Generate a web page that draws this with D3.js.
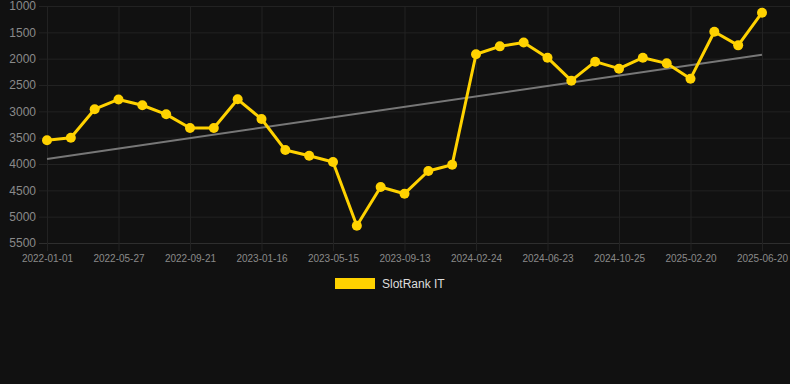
<!DOCTYPE html>
<html>
<head>
<meta charset="utf-8">
<script src="https://cdn.jsdelivr.net/npm/d3@7"></script>
<style>
  html, body { margin: 0; padding: 0; background: #111111; }
  #chart { width: 790px; height: 384px; }
</style>
</head>
<body>
<div id="chart"></div>
<script>
// dates of each rank sample (every third one is labelled on the axis)
const dates = [
  "2022-01-01", "2022-02-18", "2022-04-08", "2022-05-27", "2022-07-05", "2022-08-13",
  "2022-09-21", "2022-10-30", "2022-12-08", "2023-01-16", "2023-02-24", "2023-04-05",
  "2023-05-15", "2023-06-24", "2023-08-04", "2023-09-13", "2023-11-06", "2023-12-31",
  "2024-02-24", "2024-04-04", "2024-05-14", "2024-06-23", "2024-08-03", "2024-09-14",
  "2024-10-25", "2024-12-03", "2025-01-11", "2025-02-20", "2025-04-01", "2025-05-11",
  "2025-06-20"
];
const ranks = [
  3550, 3500, 2960, 2775, 2885, 3057, 3317, 3317, 2772, 3146, 3735,
  3843, 3962, 5172, 4437, 4564, 4133, 4013, 1917, 1766, 1692, 1981,
  2418, 2057, 2190, 1981, 2089, 2380, 1488, 1747, 1127
];
// trend line values at first and last date
const trend = [3905, 1924];
const yTicks = [1000, 1500, 2000, 2500, 3000, 3500, 4000, 4500, 5000, 5500];
const seriesName = "SlotRank IT";

const width = 790, height = 384;
const margin = { top: 6, right: 28, bottom: 141, left: 47 };
const innerW = width - margin.left - margin.right;
const innerH = height - margin.top - margin.bottom;

const svg = d3.select("#chart").append("svg")
  .attr("width", width)
  .attr("height", height)
  .style("font-family", "'Liberation Sans', Arial, sans-serif");

svg.append("rect").attr("width", width).attr("height", height).attr("fill", "#111111");

const g = svg.append("g").attr("transform", `translate(${margin.left},${margin.top})`);

const x = d3.scalePoint().domain(dates).range([0, innerW]);
// rank: smaller number = better, so 1000 sits at the top
const y = d3.scaleLinear().domain([1000, 5500]).range([0, innerH]);

// horizontal grid + y labels
const yAxis = g.append("g")
  .call(d3.axisLeft(y).tickValues(yTicks).tickSize(-(innerW + margin.right + 8)).tickPadding(3).tickFormat(d => d))
  .call(s => s.select(".domain").remove());
yAxis.selectAll(".tick line")
  .attr("x1", -8)
  .attr("x2", innerW + margin.right)
  .attr("stroke", (d) => d === 5500 ? "#2e2e2e" : "#222222");
yAxis.selectAll(".tick text")
  .attr("x", -11)
  .attr("fill", "#8a8a8a")
  .style("font-size", "12px")
  .style("font-family", "'Liberation Sans', Arial, sans-serif");

// vertical grid + x labels
const labelled = dates.filter((d, i) => i % 3 === 0);
const xAxis = g.append("g")
  .attr("transform", `translate(0,${innerH})`)
  .call(d3.axisBottom(x).tickValues(labelled).tickSize(0).tickPadding(12))
  .call(s => s.select(".domain").remove());
xAxis.selectAll(".tick line")
  .attr("y1", -innerH)
  .attr("y2", 8)
  .attr("stroke", "#222222");
xAxis.selectAll(".tick text")
  .attr("fill", "#8a8a8a")
  .style("font-size", "10px")
  .style("font-family", "'Liberation Sans', Arial, sans-serif");

// trend line
g.append("line")
  .attr("x1", x(dates[0]))
  .attr("y1", y(trend[0]))
  .attr("x2", x(dates[dates.length - 1]))
  .attr("y2", y(trend[1]))
  .attr("stroke", "#777777")
  .attr("stroke-width", 2);

// rank line
g.append("path")
  .datum(ranks)
  .attr("fill", "none")
  .attr("stroke", "#ffd200")
  .attr("stroke-width", 3)
  .attr("stroke-linejoin", "round")
  .attr("d", d3.line()
    .x((d, i) => x(dates[i]))
    .y((d) => y(d)));

g.selectAll("circle.pt")
  .data(ranks)
  .enter()
  .append("circle")
  .attr("class", "pt")
  .attr("cx", (d, i) => x(dates[i]))
  .attr("cy", (d) => y(d))
  .attr("r", 5)
  .attr("fill", "#ffd200");

// legend
const legend = svg.append("g").attr("transform", "translate(335,278)");
legend.append("rect")
  .attr("width", 40)
  .attr("height", 11)
  .attr("fill", "#ffd200");
legend.append("text")
  .attr("x", 47)
  .attr("y", 10)
  .attr("fill", "#dddddd")
  .style("font-size", "12px")
  .text(seriesName);
</script>
</body>
</html>
